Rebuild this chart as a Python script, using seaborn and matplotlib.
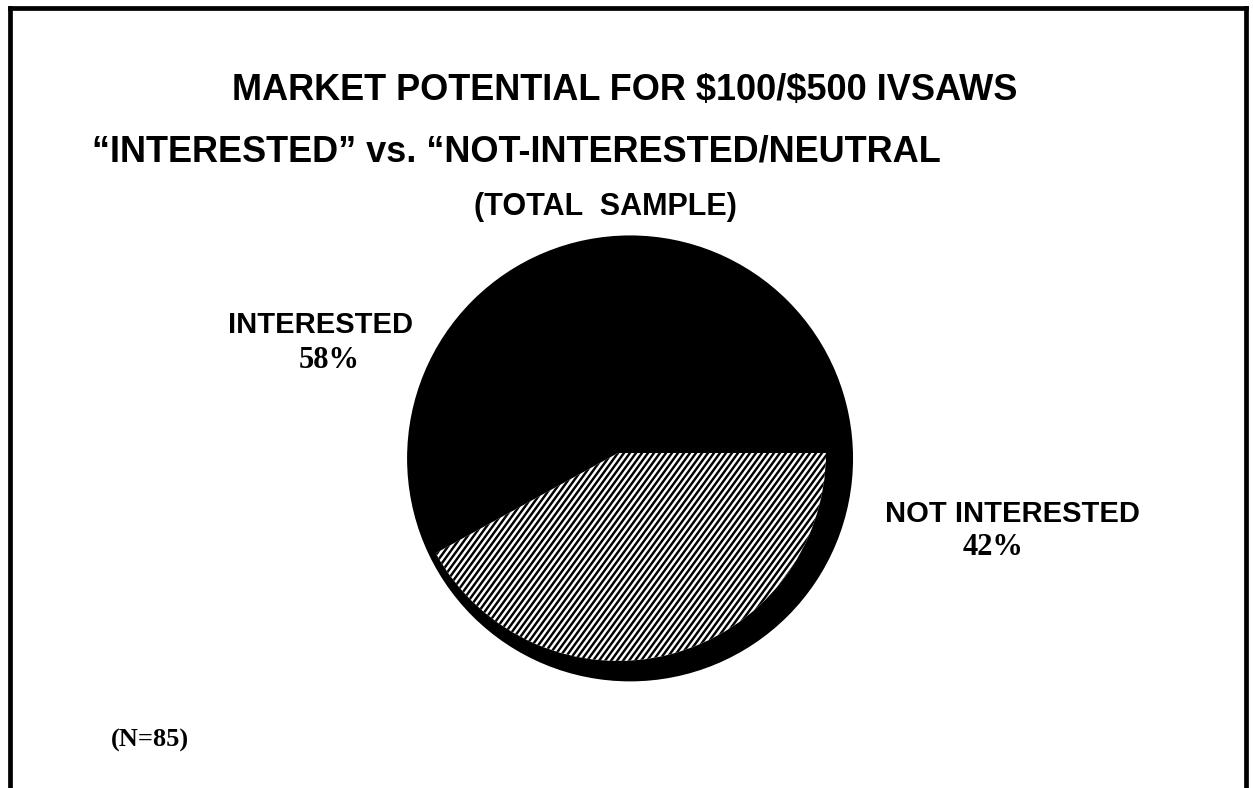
import numpy as np
import matplotlib
matplotlib.use("Agg")
import matplotlib.pyplot as plt
import seaborn as sns
from matplotlib.patches import Circle
from matplotlib.collections import LineCollection
from matplotlib.lines import Line2D

# Survey shares (percent of total sample)
categories = ["INTERESTED", "NOT INTERESTED"]
shares = [58, 42]
sample_size = 85

title_lines = [
    "MARKET POTENTIAL FOR \\$100/\\$500 IVSAWS",
    "\u201cINTERESTED\u201d vs. \u201cNOT-INTERESTED/NEUTRAL",
    "(TOTAL  SAMPLE)",
]

W, H = 1253, 788
sns.set_theme(style="white")
plt.rcParams["font.family"] = ["Liberation Sans", "DejaVu Sans"]
SERIF = ["Liberation Serif", "DejaVu Serif"]

fig = plt.figure(figsize=(W / 100, H / 100), dpi=100)
fig.patch.set_facecolor("white")


def fx(px):
    return px / W


def fy(py):
    return 1 - py / H


# Pie axes: centre and radius given in pixel units of the figure
R_PX = 208
CX, CY = 618, 453
HALF = 262
ax = fig.add_axes([fx(CX - HALF), fy(CY + HALF), 2 * HALF / W, 2 * HALF / H])

wedges, _ = ax.pie(
    shares,
    colors=["black", "white"],
    startangle=0,
    counterclock=True,
    wedgeprops=dict(linewidth=0, edgecolor="none"),
)

# Black disc that rims the pie (shadow / depth effect)
shadow = Circle((0.058, -0.026), 1.072, facecolor="black", edgecolor="none", zorder=0)
ax.add_patch(shadow)

# Diagonal hatching inside the NOT INTERESTED slice
ang = np.deg2rad(54)
u = np.array([np.cos(ang), np.sin(ang)])
nrm = np.array([-np.sin(ang), np.cos(ang)])
period_px = 6.0
step = (period_px / R_PX) * np.sin(ang)
offsets = np.arange(-1.4, 1.4, step)
segs = [[k * nrm - 1.8 * u, k * nrm + 1.8 * u] for k in offsets]
hatch = LineCollection(segs, colors="black", linewidths=1.75, zorder=3)
ax.add_collection(hatch)
hatch.set_clip_path(wedges[1])

lim = HALF / R_PX
ax.set_xlim(-lim, lim)
ax.set_ylim(-lim, lim)
ax.set_aspect("equal")
ax.axis("off")

# Titles
fig.text(fx(625), fy(100), title_lines[0], ha="center", va="baseline",
         fontsize=26, fontweight="bold", color="black")
fig.text(fx(92), fy(161), title_lines[1], ha="left", va="baseline",
         fontsize=26, fontweight="bold", color="black")
fig.text(fx(605), fy(215), title_lines[2], ha="center", va="baseline",
         fontsize=22, fontweight="bold", color="black")

# Slice labels
fig.text(fx(321), fy(333), categories[0], ha="center", va="baseline",
         fontsize=21, fontweight="bold", color="black")
fig.text(fx(329), fy(368), f"{shares[0]}%", ha="center", va="baseline",
         fontsize=22, fontweight="bold", family=SERIF, color="black")
fig.text(fx(1012), fy(522), categories[1], ha="center", va="baseline",
         fontsize=21, fontweight="bold", color="black")
fig.text(fx(993), fy(555), f"{shares[1]}%", ha="center", va="baseline",
         fontsize=22, fontweight="bold", family=SERIF, color="black")

# Sample size note
fig.text(fx(150), fy(747), f"(N={sample_size})", ha="center", va="baseline",
         fontsize=19, fontweight="bold", family=SERIF, color="black")

# Open-bottom frame around the page
frame_kw = dict(transform=fig.transFigure, color="black", lw=3.4,
                solid_capstyle="projecting")
fig.add_artist(Line2D([fx(10), fx(10)], [fy(7.5), 0], **frame_kw))
fig.add_artist(Line2D([fx(10), fx(1245.5)], [fy(7.5), fy(7.5)], **frame_kw))
fig.add_artist(Line2D([fx(1245.5), fx(1245.5)], [fy(7.5), 0], **frame_kw))

fig.savefig("out.png", dpi=100, facecolor="white")
